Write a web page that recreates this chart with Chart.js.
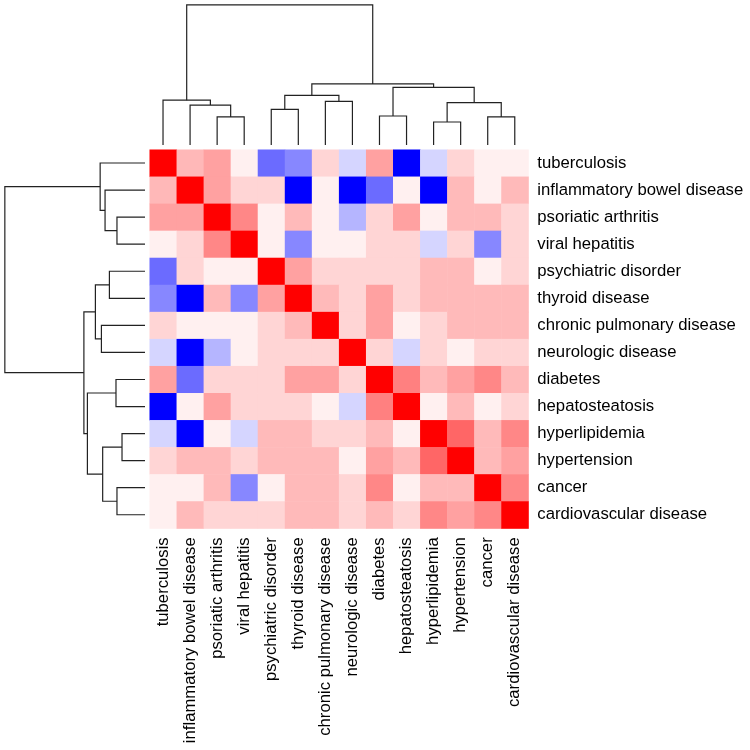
<!DOCTYPE html>
<html>
<head>
<meta charset="utf-8">
<script src="https://cdn.jsdelivr.net/npm/chart.js@4.4.0/dist/chart.umd.min.js"></script>
<style>
  html, body { margin: 0; padding: 0; background: #fff; }
  #wrap { width: 750px; height: 750px; }
</style>
</head>
<body>
<div id="wrap"><canvas id="chart" width="750" height="750"></canvas></div>
<script>
// order after clustering (same for rows and columns)
const diseases = [
  'tuberculosis', 'inflammatory bowel disease', 'psoriatic arthritis', 'viral hepatitis',
  'psychiatric disorder', 'thyroid disease', 'chronic pulmonary disease', 'neurologic disease',
  'diabetes', 'hepatosteatosis', 'hyperlipidemia', 'hypertension', 'cancer', 'cardiovascular disease'
];

const corr = [
  [1, 0.28, 0.37, 0.06, -0.58, -0.47, 0.165, -0.165, 0.37, -1, -0.165, 0.165, 0.06, 0.06],
  [0.28, 1, 0.37, 0.165, 0.165, -1, 0.06, -1, -0.58, 0.06, -1, 0.27, 0.06, 0.27],
  [0.37, 0.37, 1, 0.47, 0.06, 0.27, 0.06, -0.29, 0.165, 0.37, 0.06, 0.27, 0.27, 0.165],
  [0.06, 0.165, 0.47, 1, 0.06, -0.47, 0.06, 0.06, 0.165, 0.165, -0.165, 0.165, -0.47, 0.165],
  [-0.58, 0.165, 0.06, 0.06, 1, 0.37, 0.165, 0.165, 0.165, 0.165, 0.27, 0.27, 0.06, 0.165],
  [-0.47, -1, 0.27, -0.47, 0.37, 1, 0.27, 0.165, 0.37, 0.165, 0.27, 0.27, 0.27, 0.27],
  [0.165, 0.06, 0.06, 0.06, 0.165, 0.27, 1, 0.165, 0.37, 0.06, 0.165, 0.27, 0.27, 0.27],
  [-0.165, -1, -0.29, 0.06, 0.165, 0.165, 0.165, 1, 0.165, -0.165, 0.165, 0.06, 0.165, 0.165],
  [0.37, -0.58, 0.165, 0.165, 0.165, 0.37, 0.37, 0.165, 1, 0.5, 0.27, 0.37, 0.47, 0.27],
  [-1, 0.06, 0.37, 0.165, 0.165, 0.165, 0.06, -0.165, 0.5, 1, 0.06, 0.27, 0.06, 0.165],
  [-0.165, -1, 0.06, -0.165, 0.27, 0.27, 0.165, 0.165, 0.27, 0.06, 1, 0.6, 0.27, 0.47],
  [0.165, 0.27, 0.27, 0.165, 0.27, 0.27, 0.27, 0.06, 0.37, 0.27, 0.6, 1, 0.27, 0.37],
  [0.06, 0.06, 0.27, -0.47, 0.06, 0.27, 0.27, 0.165, 0.47, 0.06, 0.27, 0.27, 1, 0.47],
  [0.06, 0.27, 0.165, 0.165, 0.165, 0.27, 0.27, 0.165, 0.27, 0.165, 0.47, 0.37, 0.47, 1]
];

// hclust merges: leaves 0..13, new nodes numbered 14.. in order
const mergeLeft  = [2, 1, 0, 4, 6, 17, 10, 12, 20, 8, 23, 19, 16];
const mergeRight = [3, 14, 15, 5, 7, 18, 11, 13, 21, 9, 22, 24, 25];
const mergeHeight = [0.20, 0.285, 0.32, 0.254, 0.311, 0.354, 0.164, 0.20, 0.302, 0.207, 0.411, 0.436, 1.0];

const n = diseases.length;
const cellsBefore = 5.525;   // room left of / above the heatmap, in cell units
const dendroGap = 0.166;
const dendroSpan = 5.18;

function cellColor(v) {
  const t = Math.min(1, Math.abs(v));
  const c = Math.round(255 * (1 - t));
  return v >= 0 ? `rgb(255,${c},${c})` : `rgb(${c},${c},255)`;
}

// node positions (leaf index units) and heights
const nodePos = diseases.map((d, i) => i);
const nodeH = diseases.map(() => 0);
mergeLeft.forEach((l, k) => {
  nodePos.push((nodePos[l] + nodePos[mergeRight[k]]) / 2);
  nodeH.push(mergeHeight[k]);
});

const hToUnit = (h) => -dendroGap - h * dendroSpan;
const dendroSets = [];
mergeLeft.forEach((l, k) => {
  const r = mergeRight[k];
  const h = mergeHeight[k];
  const top = [
    { x: nodePos[l] + 0.5, y: hToUnit(nodeH[l]) },
    { x: nodePos[l] + 0.5, y: hToUnit(h) },
    { x: nodePos[r] + 0.5, y: hToUnit(h) },
    { x: nodePos[r] + 0.5, y: hToUnit(nodeH[r]) },
  ];
  const left = top.map((p) => ({ x: p.y, y: p.x }));
  [top, left].forEach((pts) => dendroSets.push({
    data: pts, showLine: true, pointRadius: 0, borderColor: '#222', borderWidth: 1.2, fill: false,
  }));
});

const heatmapPlugin = {
  id: 'heatmap',
  beforeDatasetsDraw: (chart) => {
    const { ctx, scales: { x, y } } = chart;
    ctx.save();
    corr.forEach((row, i) => {
      row.forEach((v, j) => {
        const x0 = x.getPixelForValue(j);
        const x1 = x.getPixelForValue(j + 1);
        const y0 = y.getPixelForValue(i);
        const y1 = y.getPixelForValue(i + 1);
        ctx.fillStyle = cellColor(v);
        ctx.fillRect(x0, y0, x1 - x0 + 0.5, y1 - y0 + 0.5);
      });
    });
    ctx.restore();
  },
};

const tickFont = { family: "'Liberation Sans', Arial, sans-serif", size: 16.7 };
const labelTicks = (axis) => { axis.ticks = diseases.map((d, i) => ({ value: i + 0.5 })); };
const noPad = (axis) => {
  axis.paddingTop = 0; axis.paddingBottom = 0; axis.paddingLeft = 0; axis.paddingRight = 0;
};

new Chart(document.getElementById('chart'), {
  type: 'scatter',
  data: { datasets: dendroSets },
  plugins: [heatmapPlugin],
  options: {
    responsive: false,
    animation: false,
    layout: { padding: 0 },
    plugins: { legend: { display: false }, tooltip: { enabled: false } },
    scales: {
      x: {
        type: 'linear', position: 'bottom', min: -cellsBefore, max: n,
        afterBuildTicks: labelTicks,
        afterFit: (axis) => { axis.height = 221.7; noPad(axis); },
        grid: { display: false, drawTicks: false }, border: { display: false },
        ticks: {
          autoSkip: false, minRotation: 90, maxRotation: 90, padding: 9, color: '#000', font: tickFont,
          callback: (v) => diseases[Math.floor(v)],
        },
      },
      y: {
        type: 'linear', position: 'right', reverse: true, min: -cellsBefore, max: n,
        afterBuildTicks: labelTicks,
        afterFit: (axis) => { axis.width = 221.7; noPad(axis); },
        grid: { display: false, drawTicks: false }, border: { display: false },
        ticks: {
          autoSkip: false, padding: 9, color: '#000', font: tickFont,
          callback: (v) => diseases[Math.floor(v)],
        },
      },
    },
  },
});
</script>
</body>
</html>
